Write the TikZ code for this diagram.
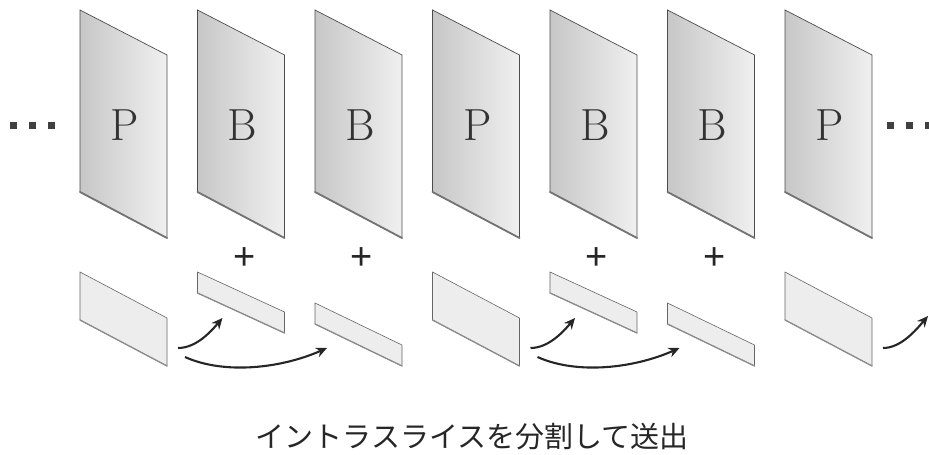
\documentclass[tikz,border=0pt]{standalone}
\usepackage{fontspec}
\newfontfamily\cjk{Noto Sans CJK JP}
\newfontfamily\plusfont{Liberation Sans}
\usetikzlibrary{arrows.meta}
\tikzset{
  frameedge/.style={draw=black!70,line width=0.7pt},
  shadowedge/.style={draw=black!55,line width=1.8pt,line cap=round},
  sliceedge/.style={draw=black!60,line width=0.6pt},
  sliceshadow/.style={draw=black!45,line width=1.3pt,line cap=round},
  sendarrow/.style={draw=black!85,line width=2.1pt,-{Stealth[length=11pt,width=10pt]}},
  framelabel/.style={font=\fontsize{45}{50}\selectfont,text=black!80,inner sep=0pt},
  plussign/.style={font=\plusfont\fontsize{38}{40}\selectfont,text=black!85,inner sep=0pt},
  dotsq/.style={fill=black!75},
}
\begin{document}
\begin{tikzpicture}[x=1pt,y=-1pt]
\useasboundingbox (0,0) rectangle (929,455);
% large frames
\foreach \i/\t in {0/P,1/B,2/B,3/P,4/B,5/B,6/P}{
  \pgfmathsetmacro{\xa}{80+117.5*\i}
  \pgfmathsetmacro{\xb}{\xa+87}
  \shade[left color=black!22,right color=black!6]
    (\xa,10) -- (\xb,55) -- (\xb,238) -- (\xa,192) -- cycle;
  \draw[frameedge] (\xa,10) -- (\xb,55) -- (\xb,238) -- (\xa,192) -- cycle;
  \draw[shadowedge] (\xa,192) -- (\xb,238);
  \node[framelabel] (L\i) at (\xa+45,125) {\t};
}
% full intra slices under P frames
\foreach \i in {0,3,6}{
  \pgfmathsetmacro{\xa}{80+117.5*\i}
  \pgfmathsetmacro{\xb}{\xa+87}
  \fill[black!7] (\xa,272) -- (\xb,318) -- (\xb,366) -- (\xa,320) -- cycle;
  \draw[sliceedge] (\xa,272) -- (\xb,318) -- (\xb,366) -- (\xa,320) -- cycle;
  \draw[sliceshadow] (\xa,320) -- (\xb,366);
  \coordinate (S\i a) at (\xa+98,348);
  \coordinate (S\i b) at (\xa+105,357);
}
% upper half slices
\foreach \i in {1,4}{
  \pgfmathsetmacro{\xa}{80+117.5*\i}
  \pgfmathsetmacro{\xb}{\xa+87}
  \fill[black!7] (\xa,272) -- (\xb,312) -- (\xb,333) -- (\xa,293) -- cycle;
  \draw[sliceedge] (\xa,272) -- (\xb,312) -- (\xb,333) -- (\xa,293) -- cycle;
  \draw[sliceshadow] (\xa,293) -- (\xb,333);
  \node[plussign] (plus\i) at (\xa+47,259) {+};
  \coordinate (T\i) at (\xa+25,318);
}
% lower half slices
\foreach \i in {2,5}{
  \pgfmathsetmacro{\xa}{80+117.5*\i}
  \pgfmathsetmacro{\xb}{\xa+87}
  \fill[black!7] (\xa,303) -- (\xb,345) -- (\xb,366) -- (\xa,324) -- cycle;
  \draw[sliceedge] (\xa,303) -- (\xb,345) -- (\xb,366) -- (\xa,324) -- cycle;
  \draw[sliceshadow] (\xa,324) -- (\xb,366);
  \node[plussign] (plus\i) at (\xa+47,259) {+};
  \coordinate (T\i) at (\xa+12,348);
}
\coordinate (T7) at (928,316);
% arrows
\draw[sendarrow] (S0a) .. controls +(18,0) and +(-12,14) .. (T1);
\draw[sendarrow] (S0b) .. controls +(40,18) and +(-45,20) .. (T2);
\draw[sendarrow] (S3a) .. controls +(18,0) and +(-12,14) .. (T4);
\draw[sendarrow] (S3b) .. controls +(40,18) and +(-45,20) .. (T5);
\draw[sendarrow] (S6a) .. controls +(18,0) and +(-12,14) .. (T7);
% ellipsis dots
\foreach \x in {13,32,51}{
  \fill[dotsq] (\x-3.5,121.5) rectangle (\x+3.5,128.5);
}
\foreach \x in {890,909,928}{
  \fill[dotsq] (\x-3.5,121.5) rectangle (\x+3.5,128.5);
}
% caption
\node[font=\cjk\fontsize{29}{32}\selectfont,text=black!85,inner sep=0pt] (cap) at (472,437) {イントラスライスを分割して送出};
\end{tikzpicture}
\end{document}
